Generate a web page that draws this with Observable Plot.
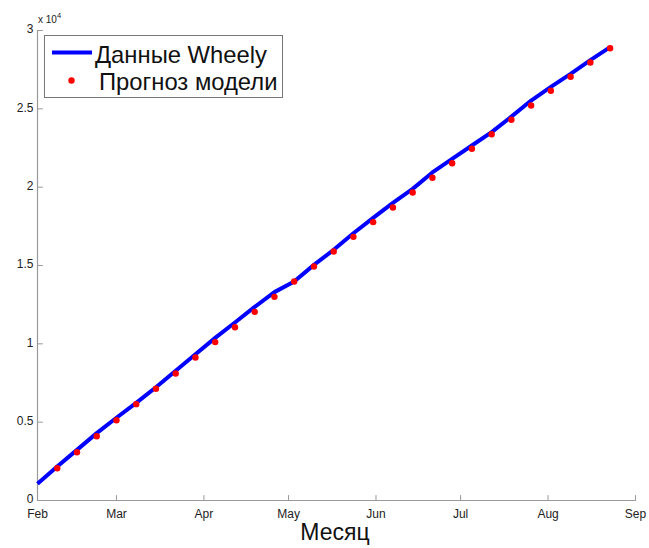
<!DOCTYPE html>
<html><head><meta charset="utf-8">
<script src="https://cdn.jsdelivr.net/npm/d3@7"></script>
<script src="https://cdn.jsdelivr.net/npm/@observablehq/plot@0.6"></script>
<style>body{margin:0;background:#fff}</style>
</head><body><div id="chart"></div>
<script>
// Wheely data (line)
const lineDates = ["2014-02-01","2014-02-08","2014-02-15","2014-02-22","2014-03-01","2014-03-08","2014-03-15","2014-03-22","2014-03-29","2014-04-05","2014-04-12","2014-04-19","2014-04-26","2014-05-03","2014-05-10","2014-05-17","2014-05-24","2014-05-31","2014-06-07","2014-06-14","2014-06-21","2014-06-28","2014-07-05","2014-07-12","2014-07-19","2014-07-26","2014-08-02","2014-08-09","2014-08-16","2014-08-23"];
const lineValues = [1070,2170,3230,4300,5280,6230,7230,8280,9340,10380,11360,12360,13300,13980,15040,16000,17060,18040,19000,19890,20940,21810,22660,23510,24500,25530,26400,27230,28110,28940];
// Model forecast (dots)
const modelDates = ["2014-02-08","2014-02-15","2014-02-22","2014-03-01","2014-03-08","2014-03-15","2014-03-22","2014-03-29","2014-04-05","2014-04-12","2014-04-19","2014-04-26","2014-05-03","2014-05-10","2014-05-17","2014-05-24","2014-05-31","2014-06-07","2014-06-14","2014-06-21","2014-06-28","2014-07-05","2014-07-12","2014-07-19","2014-07-26","2014-08-02","2014-08-09","2014-08-16","2014-08-23"];
const modelValues = [2060,3080,4100,5120,6150,7130,8110,9130,10110,11060,12040,13000,13980,14940,15890,16830,17770,18700,19660,20600,21530,22450,23380,24300,25210,26150,27050,27960,28870];
// Axes
const monthTicks = ["2014-02-01","2014-03-01","2014-04-01","2014-05-01","2014-06-01","2014-07-01","2014-08-01","2014-09-01"];
const monthLabels = ["Feb","Mar","Apr","May","Jun","Jul","Aug","Sep"];
const yTicks = [0,5000,10000,15000,20000,25000,30000];
const yTickLabels = ["0","0.5","1","1.5","2","2.5","3"];
const legendLabels = ["Данные Wheely","Прогноз модели"];
const xLabel = "Месяц";
const exponentText = ["x 10","4"];

const parse = d3.utcParse("%Y-%m-%d");
const lineData = lineDates.map((d, i) => ({date: parse(d), value: lineValues[i]}));
const modelData = modelDates.map((d, i) => ({date: parse(d), value: modelValues[i]}));
const xTickDates = monthTicks.map(parse);
const xLabelMap = new Map(xTickDates.map((d, i) => [+d, monthLabels[i]]));
const yLabelMap = new Map(yTicks.map((v, i) => [v, yTickLabels[i]]));

const font = "Liberation Sans, Arial, Helvetica, sans-serif";
const axisColor = "#999";
const tickShape = {draw(context, l) { context.moveTo(0, 0); context.lineTo(0, -l); }};

const chart = Plot.plot({
  width: 649, height: 548,
  marginLeft: 37, marginRight: 14, marginTop: 30, marginBottom: 48,
  style: {fontFamily: font, fontSize: "12px", color: "#222", background: "#fff", overflow: "visible"},
  x: {type: "utc", domain: [xTickDates[0], xTickDates[xTickDates.length - 1]]},
  y: {domain: [0, 30000]},
  marks: [
    Plot.ruleY([0], {stroke: axisColor, strokeWidth: 1.2}),
    Plot.ruleX([xTickDates[0]], {stroke: axisColor, strokeWidth: 1.2}),
    // inward ticks
    Plot.vector(xTickDates, {x: d => d, y: 0, length: 5, rotate: 0, anchor: "start", shape: tickShape, stroke: axisColor, strokeWidth: 1}),
    Plot.vector(yTicks, {x: xTickDates[0], y: d => d, length: 5, rotate: 90, anchor: "start", shape: tickShape, stroke: axisColor, strokeWidth: 1}),
    Plot.axisX({ticks: xTickDates, tickSize: 0, tickPadding: 8.5, tickFormat: d => xLabelMap.get(+d), label: null, fill: "#222"}),
    Plot.axisY({ticks: yTicks, tickSize: 0, tickPadding: 4, dy: -1, tickFormat: d => yLabelMap.get(d), label: null, fill: "#222"}),
    Plot.line(lineData, {x: "date", y: "value", stroke: "#0000ff", strokeWidth: 4, strokeLinejoin: "round", strokeLinecap: "butt"}),
    Plot.dot(modelData, {x: "date", y: "value", r: 3.2, fill: "#ff0000", stroke: "none"})
  ]
});

const svg = d3.select(chart);
// x label
svg.append("text").attr("x", 335).attr("y", 540).attr("text-anchor", "middle")
  .attr("font-family", font).attr("font-size", 23).attr("fill", "#111").text(xLabel);
// exponent
const ex = svg.append("text").attr("x", 38).attr("y", 23).attr("text-anchor", "start")
  .attr("font-family", font).attr("font-size", 10).attr("fill", "#222");
ex.append("tspan").text(exponentText[0]);
ex.append("tspan").attr("dy", -5).attr("font-size", 7.5).text(exponentText[1]);
// legend
const lg = svg.append("g").attr("text-anchor", "start");
lg.append("rect").attr("x", 44.5).attr("y", 35.5).attr("width", 238).attr("height", 62)
  .attr("fill", "#fff").attr("stroke", "#777").attr("stroke-width", 1);
lg.append("line").attr("x1", 52).attr("x2", 92).attr("y1", 52.5).attr("y2", 52.5)
  .attr("stroke", "#0000ff").attr("stroke-width", 4);
lg.append("text").attr("x", 95).attr("y", 62.5).attr("font-family", font).attr("font-size", 23.8).attr("fill", "#111").text(legendLabels[0]);
lg.append("circle").attr("cx", 71.5).attr("cy", 80.5).attr("r", 3.2).attr("fill", "#ff0000");
lg.append("text").attr("x", 99).attr("y", 90).attr("font-family", font).attr("font-size", 23.8).attr("fill", "#111").text(legendLabels[1]);

document.getElementById("chart").appendChild(chart);
</script>
</body></html>
